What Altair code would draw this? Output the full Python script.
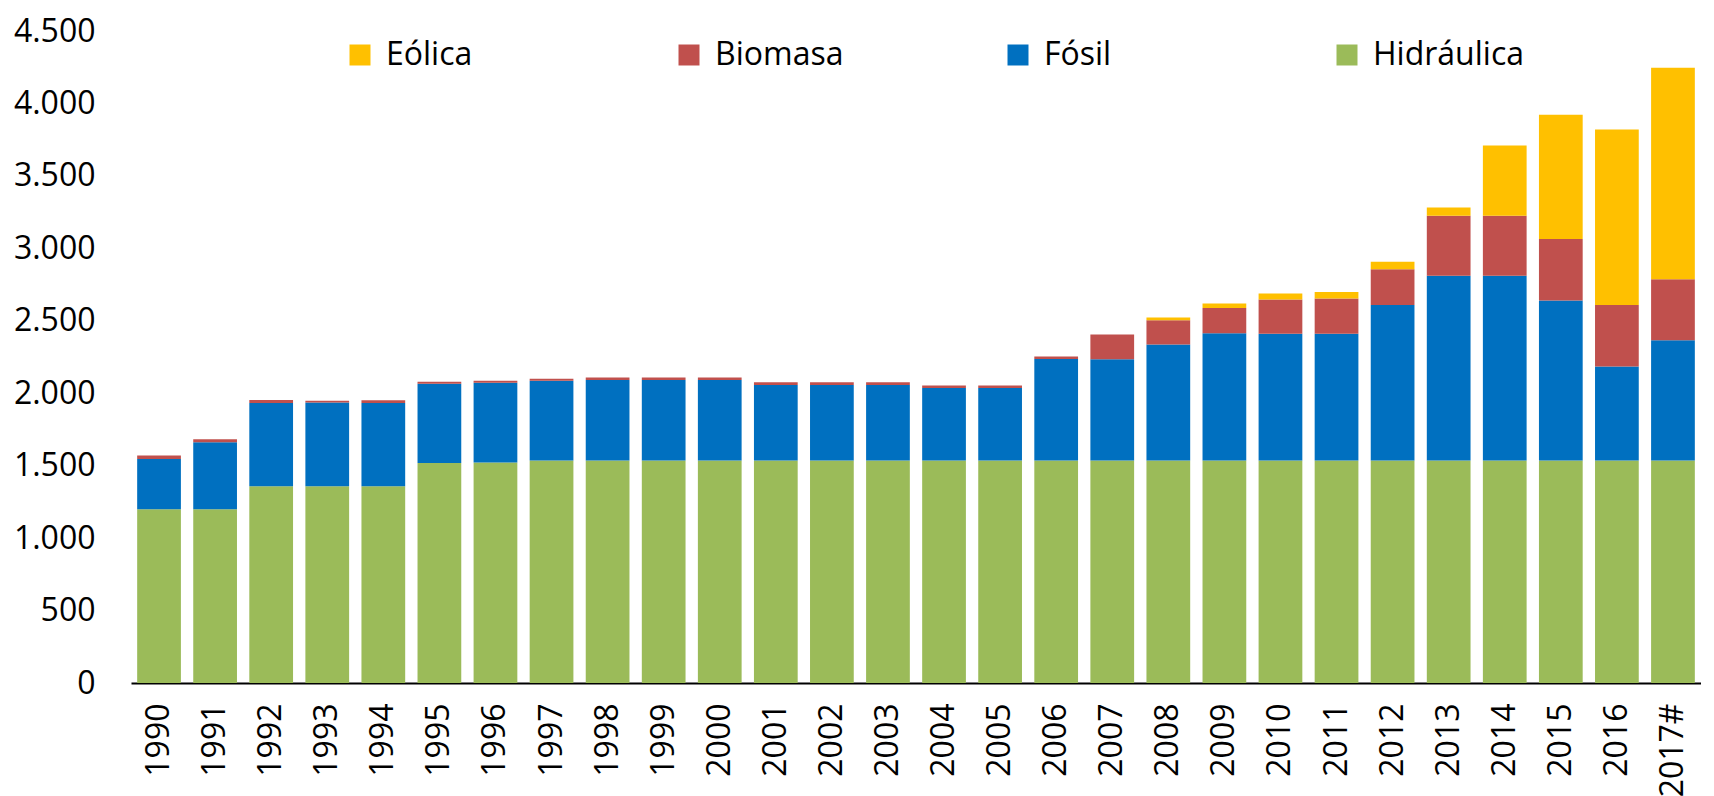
import altair as alt
import pandas as pd

years = ["1990", "1991", "1992", "1993", "1994", "1995", "1996", "1997", "1998", "1999",
         "2000", "2001", "2002", "2003", "2004", "2005", "2006", "2007", "2008", "2009",
         "2010", "2011", "2012", "2013", "2014", "2015", "2016", "2017#"]

hidraulica = [1200, 1200, 1358, 1358, 1358, 1519, 1522, 1536, 1536, 1536,
              1536, 1536, 1536, 1536, 1536, 1536, 1536, 1536, 1536, 1536,
              1536, 1536, 1536, 1536, 1536, 1536, 1536, 1536]
fosil = [346, 461, 575, 578, 575, 546, 550, 550, 555, 555,
         555, 521, 521, 521, 500, 500, 701, 699, 801, 878,
         874, 874, 1073, 1275, 1275, 1104, 648, 829]
biomasa = [25, 21, 21, 12, 18, 14, 14, 14, 17, 17,
           17, 18, 18, 18, 18, 18, 16, 170, 167, 174,
           237, 244, 247, 414, 414, 425, 425, 421]
eolica = [0, 0, 0, 0, 0, 0, 0, 0, 0, 0,
          0, 0, 0, 0, 0, 0, 0, 0, 18, 31,
          42, 45, 52, 56, 484, 857, 1212, 1460]

series = ["Eólica", "Biomasa", "Fósil", "Hidráulica"]
colors = ["#FFC000", "#C0504D", "#0070C0", "#9BBB59"]
stack_order = {"Hidráulica": 0, "Fósil": 1, "Biomasa": 2, "Eólica": 3}

rows = []
for name, vals in zip(["Hidráulica", "Fósil", "Biomasa", "Eólica"],
                      [hidraulica, fosil, biomasa, eolica]):
    for y, v in zip(years, vals):
        rows.append({"year": y, "serie": name, "valor": v, "orden": stack_order[name]})
df = pd.DataFrame(rows)

FONT = "Open Sans"

chart = alt.Chart(df).mark_bar().encode(
    x=alt.X("year:N", sort=years, title=None,
            scale=alt.Scale(paddingInner=0.22, paddingOuter=0.11),
            axis=alt.Axis(labelAngle=270, labelFontSize=32, labelFont=FONT,
                          labelColor="black", ticks=False, domainColor="black",
                          domainWidth=2, labelPadding=20)),
    y=alt.Y("valor:Q", stack="zero", title=None,
            scale=alt.Scale(domain=[0, 4500], nice=False),
            axis=alt.Axis(values=list(range(0, 4501, 500)), grid=False, domain=False,
                          ticks=False, labelFontSize=32, labelFont=FONT,
                          labelColor="black", labelPadding=36,
                          labelExpr="replace(format(datum.value, ',d'), ',', '.')")),
    color=alt.Color("serie:N", title=None,
                    scale=alt.Scale(domain=series, range=colors),
                    legend=alt.Legend(orient="none", legendX=213, legendY=8,
                                      direction="horizontal", columns=4,
                                      gridAlign="all",
                                      symbolType="square", symbolSize=441,
                                      symbolStrokeWidth=0, labelFontSize=32,
                                      labelFont=FONT, labelColor="black",
                                      labelOffset=10, columnPadding=136,
                                      labelLimit=400)),
    order=alt.Order("orden:Q", sort="ascending"),
).properties(
    width=1570, height=652,
    padding={"left": 5, "top": 7, "right": 0, "bottom": 0},
).configure_view(stroke=None)

chart.save("out.html", embed_options={"renderer": "svg", "actions": False})
